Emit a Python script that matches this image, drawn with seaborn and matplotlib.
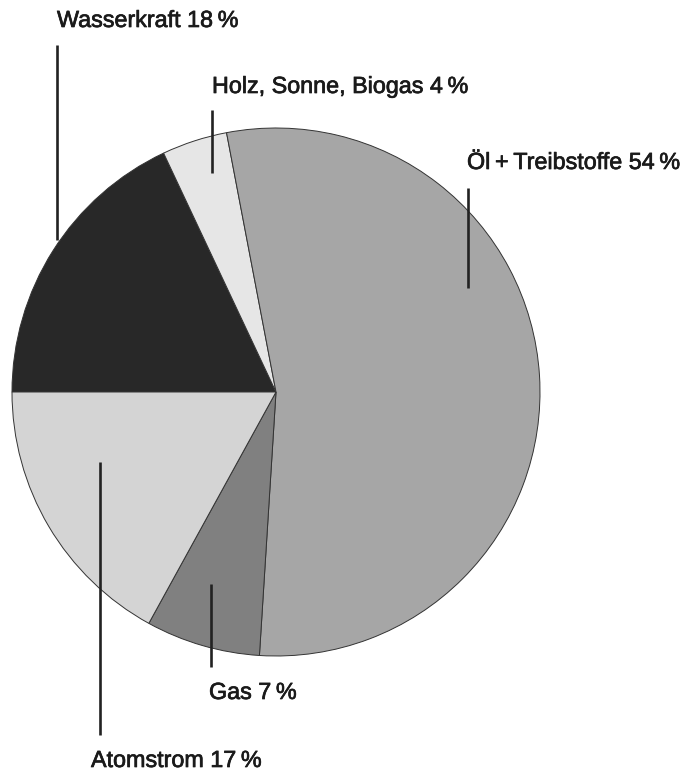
import seaborn as sns
import matplotlib.pyplot as plt
import matplotlib.patheffects as pe

labels = ['Wasserkraft', 'Holz, Sonne, Biogas', 'Öl\u2009+\u2009Treibstoffe', 'Gas', 'Atomstrom']
shares = [18, 4, 54, 7, 17]
colors = ['#282828', '#e6e6e6', '#a6a6a6', '#808080', '#d4d4d4']

sns.set_theme(style='white')
plt.rcParams['font.family'] = ['Liberation Sans', 'DejaVu Sans']

W, H = 683, 771
fig = plt.figure(figsize=(W / 100, H / 100), dpi=100)
ax = fig.add_axes([0, 0, 1, 1])

# pie: clockwise from the left horizontal
ax.pie(shares, colors=colors, startangle=180, counterclock=False,
       center=(276, H - 392), radius=264, frame=True,
       wedgeprops=dict(edgecolor='#333333', linewidth=0.7))
ax.set_xlim(0, W)
ax.set_ylim(0, H)
ax.set_aspect('equal')
ax.axis('off')

# label text (left x, baseline y in pixels) and leader lines (x, y0, y1)
text_pos = [(57, 27), (212, 93), (467, 169), (209, 699), (91, 767)]
line_pos = [(57, 45, 240), (212, 110, 173), (468, 188, 288), (211, 584, 667), (100, 462, 735)]

for lab, val, (tx, ty), (lx, y0, y1) in zip(labels, shares, text_pos, line_pos):
    ax.text(tx, H - ty, f'{lab} {val}\u2009%', fontsize=16.8, color='#1a1a1a',
            ha='left', va='baseline',
            path_effects=[pe.withStroke(linewidth=0.5, foreground='#1a1a1a')])
    ax.plot([lx, lx], [H - y0, H - y1], color='#222222', lw=1.9, solid_capstyle='butt')

fig.savefig('out.png', dpi=100, facecolor='white')
